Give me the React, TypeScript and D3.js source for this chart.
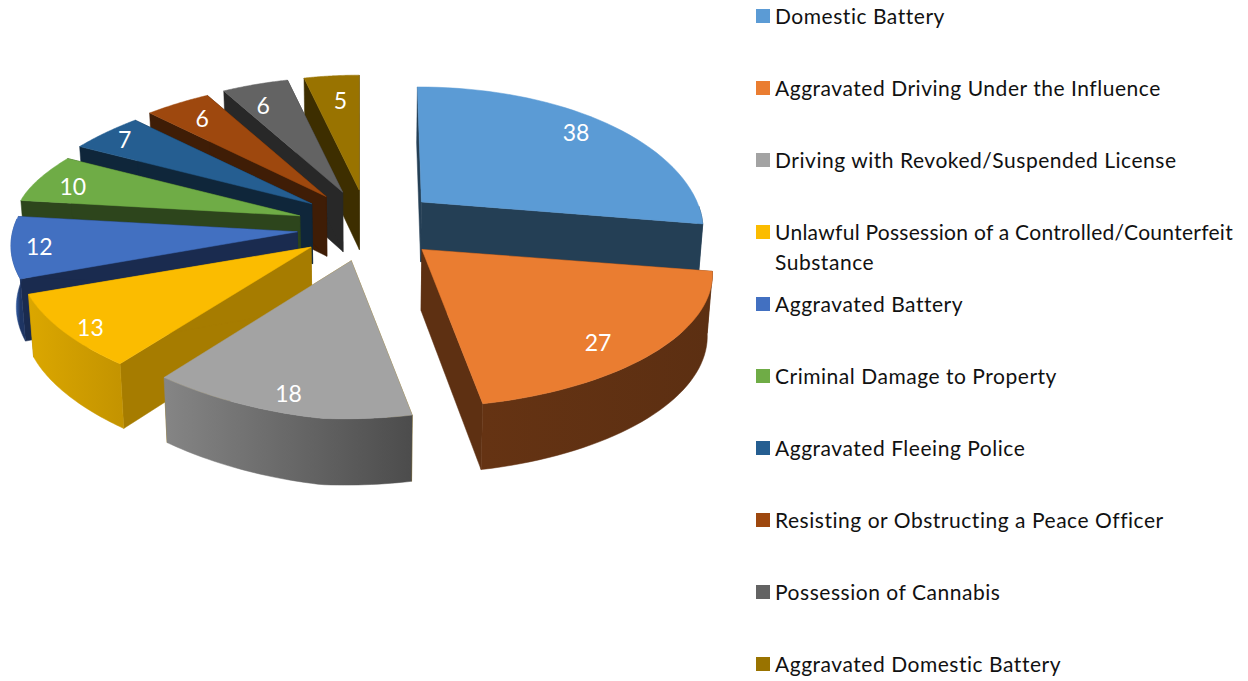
// 3D exploded pie of offences, drawn with a hand rolled projection since d3 has no 3D pie
import React from 'react';
import * as d3 from 'd3';

const categories = [
  'Domestic Battery',
  'Aggravated Driving Under the Influence',
  'Driving with Revoked/Suspended License',
  'Unlawful Possession of a Controlled/Counterfeit Substance',
  'Aggravated Battery',
  'Criminal Damage to Property',
  'Aggravated Fleeing Police',
  'Resisting or Obstructing a Peace Officer',
  'Possession of Cannabis',
  'Aggravated Domestic Battery',
];
const counts = [38, 27, 18, 13, 12, 10, 7, 6, 6, 5];

const topColors = ['#5b9bd5', '#ea7d31', '#a3a3a3', '#fbbc00', '#4270c1', '#6fac46', '#255e91', '#9e480e', '#636363', '#997300'];
const sideColors = ['#243f55', '#5e3012', '#a67c00', '#a67c00', '#1a2b4f', '#2d451c', '#0f263a', '#3f1d06', '#282828', '#3d2e00'];
// rim gradient, from the start angle of the slice to its end angle
const rimFrom = ['#243f55', '#5c2f12', '#4c4c4c', '#c49400', '#1e3563', '#2d451c', '#0f263a', '#3f1d06', '#282828', '#3d2e00'];
const rimTo = ['#243f55', '#653313', '#858585', '#dba700', '#2f5597', '#2d451c', '#0f263a', '#3f1d06', '#282828', '#3d2e00'];

// back to front, so nearer slices paint over the walls of the ones behind
const paintOrder = [9, 8, 7, 6, 5, 4, 3, 2, 0, 1];

// projection settings, fitted by eye
const CX = 367;
const CY = 226;
const EXPLODE_X = 70;
const EXPLODE_Y = 36;
const RX = 282;
const RY = 133;
const PERSP = 0.156;
const SKEW = 30;
const ROLL = 9;
const LEAN = 0.015;
const LABEL_RHO = 0.85;
const FIRST_SHEAR = -4;
const rimScale = [0.967, 1, 1, 1.02, 1, 1, 1, 1, 1, 1];
const labelNudge = [[-5, -2], [-18, 6], [-5, 7], [-14, 9], [-16, 2], [-4, 2], [-10, -4], [4, 1], [-4, 4], [5, 6]];

const pieAngles = d3.pie<number>().sort(null).startAngle(0).endAngle(2 * Math.PI).value(d => d)(counts);
const linePath = d3.line();

type Pt = [number, number];

const apexOf = (mid: number): Pt => {
  const c = Math.cos(mid);
  const s = Math.sin(mid);
  const frontLeft = Math.max(0, -s) * Math.max(0, -c);
  const frontRight = Math.max(0, s) * Math.max(0, -c);
  return [
    CX + EXPLODE_X * s + 3 * Math.max(0, s) - 6 * Math.max(0, -c) ** 2 - 4 * frontLeft + 4 * frontRight,
    CY - EXPLODE_Y * c - 7 * frontLeft,
  ];
};

const edgeVec = (theta: number, rho: number, i: number): Pt => {
  const u = Math.sin(theta) * rho;
  const v = Math.cos(theta) * rho;
  const s = 1 / (1 + PERSP * v);
  const wide = u > 0 ? 1.02 : 1 + 0.03 * Math.max(0, v);
  const rearBump = v > 0 ? 20 * v * (1 - v) : 0;
  const roll = u > 0 ? ROLL * 0.7 * u * (1 - v) : ROLL * u * (1 - v) ** 2 + rearBump;
  const x = (RX * wide * u * s - SKEW * Math.max(0, -v) ** 2) * rimScale[i];
  const y = -RY * v * s + roll;
  return i === 0 ? [x + FIRST_SHEAR * v, y] : [x, y];
};

// extrude a point of the top face down to the floor of the pie
const dropped = ([x, y]: Pt): Pt => [CX + (x - CX) * (1 - LEAN), y + 56 + (y - 75) * 0.03];

const close = (pts: Pt[]) => linePath(pts) + 'Z';

type Face = { d: string; fill: string };

const buildSlice = (i: number) => {
  const { startAngle, endAngle } = pieAngles[i];
  const mid = (startAngle + endAngle) / 2;
  const apex = apexOf(mid);
  const at = (theta: number): Pt => {
    const [dx, dy] = edgeVec(theta, 1, i);
    return [apex[0] + dx, apex[1] + dy];
  };
  const steps = d3.range(0, 41).map(k => startAngle + ((endAngle - startAngle) * k) / 40);
  const arc = steps.map(at);
  const first = arc[0];
  const last = arc[arc.length - 1];

  const faces: Face[] = [
    { d: close([apex, first, dropped(first), dropped(apex)]), fill: sideColors[i] },
    { d: close([apex, last, dropped(last), dropped(apex)]), fill: sideColors[i] },
  ];
  // only the part of the rim that faces the viewer
  const rim = arc.filter((_, k) => Math.cos(steps[k]) < 0.05);
  if (rim.length > 1) {
    faces.push({ d: close([...rim, ...rim.map(dropped).reverse()]), fill: `url(#rim${i})` });
  }
  faces.push({ d: close([apex, ...arc]), fill: topColors[i] });
  const rimEnds = rim.length > 1 ? [rim[0][0], rim[rim.length - 1][0]] : [first[0], last[0]];
  return { faces, rimEnds };
};

const labelPos = (i: number): Pt => {
  const mid = (pieAngles[i].startAngle + pieAngles[i].endAngle) / 2;
  const apex = apexOf(mid);
  const [dx, dy] = edgeVec(mid, LABEL_RHO, i);
  return [apex[0] + dx + labelNudge[i][0], apex[1] + dy + labelNudge[i][1]];
};

// legend
const legendY = d3.scaleLinear().domain([0, 9]).range([15, 663]);
const legendLines = categories.map(c =>
  c.startsWith('Unlawful') ? ['Unlawful Possession of a Controlled/Counterfeit', 'Substance'] : [c]
);

const App = () => {
  const slices = counts.map((_, i) => buildSlice(i));
  return (
    <svg
      width={1248}
      height={681}
      style={{ position: 'absolute', left: 0, top: 0, background: '#fff' }}
      fontFamily="Lato, sans-serif"
    >
      <defs>
        {slices.map((s, i) => (
          <linearGradient key={i} id={`rim${i}`} gradientUnits="userSpaceOnUse" x1={s.rimEnds[0]} y1={0} x2={s.rimEnds[1]} y2={0}>
            <stop offset="0%" stopColor={rimFrom[i]} />
            <stop offset="100%" stopColor={rimTo[i]} />
          </linearGradient>
        ))}
      </defs>
      {paintOrder.map(i => (
        <g key={i}>
          {slices[i].faces.map((f, k) => (
            <path key={k} d={f.d} fill={f.fill} stroke={f.fill} strokeWidth={0.5} strokeLinejoin="round" />
          ))}
        </g>
      ))}
      {counts.map((v, i) => {
        const [x, y] = labelPos(i);
        return (
          <text key={i} x={x} y={y} fill="#fff" fontSize={23} textAnchor="middle" dominantBaseline="central">
            {v}
          </text>
        );
      })}
      {categories.map((c, i) => (
        <g key={c}>
          <rect x={756} y={legendY(i) - 6} width={14} height={14} fill={topColors[i]} />
          {legendLines[i].map((line, k) => (
            <text
              key={k}
              x={775}
              y={legendY(i) + k * 30}
              fontSize={21}
              letterSpacing={line.length > 40 ? 0.27 : 0.53}
              fill="#111"
              dominantBaseline="central"
            >
              {line}
            </text>
          ))}
        </g>
      ))}
    </svg>
  );
};

export default App;
